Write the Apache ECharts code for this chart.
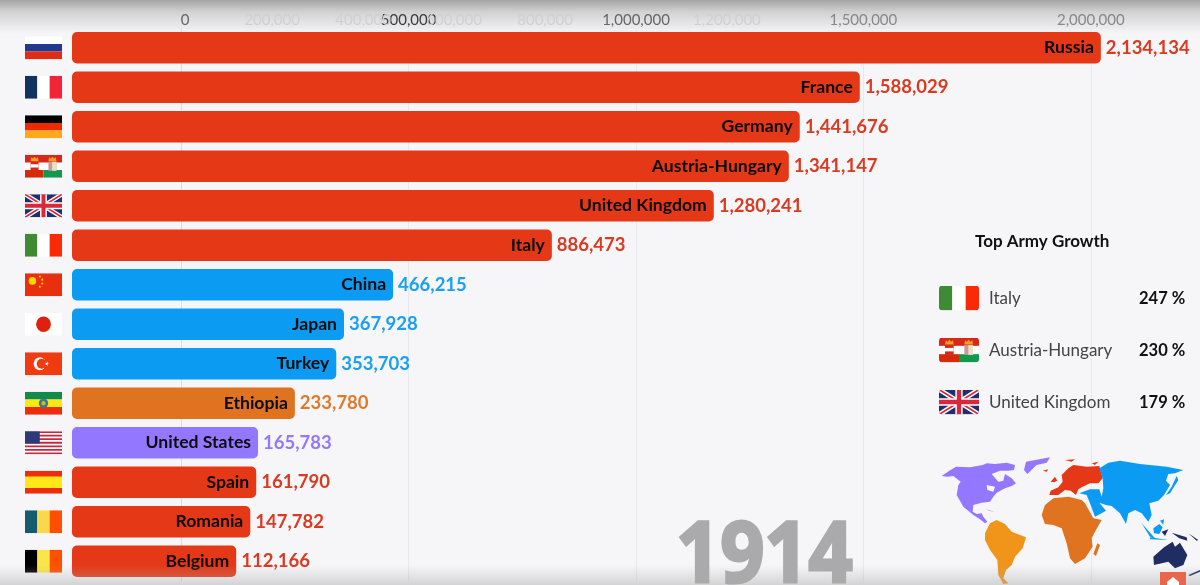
<!DOCTYPE html>
<html><head><meta charset="utf-8">
<style>html,body{margin:0;padding:0;background:#f6f5f8}#c{width:1200px;height:585px}</style>
<script src="https://cdn.jsdelivr.net/npm/echarts@6/dist/echarts.min.js"></script>
</head><body><div id="c"></div>
<script>
// ---------- data ----------
const year = '1914';
const countries = ['Russia','France','Germany','Austria-Hungary','United Kingdom','Italy','China','Japan','Turkey','Ethiopia','United States','Spain','Romania','Belgium'];
const shownValues = [2134134,1588029,1441676,1341147,1280241,886473,466215,367928,353703,233780,165783,161790,147782,112166];
// bar ends read against the axis (the bars lag the counters in this animation frame)
const barEnds = [2022000,1492000,1360000,1336000,1171000,815000,466000,358000,341000,250000,169000,165000,152000,121000];
const regions = ['eu','eu','eu','eu','eu','eu','as','as','as','af','na','eu','eu','eu'];
const growthNames = ['Italy','Austria-Hungary','United Kingdom'];
const growthValues = [247,230,179];
const axisTicks = [0,500000,1000000,1500000,2000000];
const gridTicks = [500000,1000000,1500000,2000000];
const fadedTicks = [200000,400000,600000,800000,1200000];
const axisMin = -240000, axisMax = 2240000;

// ---------- style ----------
const F = 'Lato, "Noto Sans", sans-serif';
const regionColor = {eu:'#e43817',as:'#0b9bf3',af:'#e07320',na:'#9378ff'};
const counterColor = {eu:'#d93a20',as:'#18a0f2',af:'#e07a2a',na:'#9378ff'};
const tickColor = {0:'#666',500000:'#3c3c3c',1000000:'#666',1500000:'#888',2000000:'#888'};
const svg = (s,round) => 'data:image/svg+xml;charset=utf-8,' + encodeURIComponent(
  '<svg xmlns="http://www.w3.org/2000/svg" viewBox="0 0 60 36" width="240" height="144" preserveAspectRatio="none">'+
  (round?'<defs><clipPath id="r"><rect width="60" height="36" rx="5"/></clipPath></defs><g clip-path="url(#r)">'+s+'</g>':s)+'</svg>');
const h3 = (a,b,c)=>`<rect width="60" height="12" fill="${a}"/><rect y="12" width="60" height="12" fill="${b}"/><rect y="24" width="60" height="12" fill="${c}"/>`;
const v3 = (a,b,c)=>`<rect width="20" height="36" fill="${a}"/><rect x="20" width="20" height="36" fill="${b}"/><rect x="40" width="20" height="36" fill="${c}"/>`;
const uk = `<rect width="60" height="36" fill="#1f2f6e"/><path d="M0 0L60 36M60 0L0 36" stroke="#fff" stroke-width="7"/><path d="M0 0L60 36M60 0L0 36" stroke="#d8283c" stroke-width="2.5"/><path d="M30 0V36M0 18H60" stroke="#fff" stroke-width="11"/><path d="M30 0V36M0 18H60" stroke="#d8283c" stroke-width="6.5"/>`;
const ah = `<rect width="60" height="36" fill="#fff"/><rect width="60" height="12" fill="#d8281c"/><rect y="24" width="30" height="12" fill="#d42a08"/><rect x="30" y="24" width="30" height="12" fill="#119a4e"/><rect x="9" y="11" width="13" height="14" fill="#d8281c"/><rect x="9" y="15" width="13" height="5" fill="#fff"/><rect x="38" y="11" width="13" height="14" fill="#c99"/><rect x="44" y="11" width="7" height="14" fill="#e9e0c8"/><path d="M9 10l1-6 3 2 2.500-3 2.500 3 3-2 1 6z" fill="#f0a020"/><path d="M38 10l1-6 3 2 2.500-3 2.500 3 3-2 1 6z" fill="#f0a020"/>`;
let stripes=''; for(let i=0;i<7;i++) stripes+=`<rect y="${i*36/6.5}" width="60" height="2.77" fill="#c8283c"/>`;
const flagSvg = {
  'Russia':h3('#fff','#21398f','#e22b14'),
  'France':v3('#10335f','#fff','#f22438'),
  'Germany':h3('#000','#f02a00','#ffa91a'),
  'Austria-Hungary':ah,
  'United Kingdom':uk,
  'Italy':v3('#3f8a32','#fff','#fb2a06'),
  'China':`<rect width="60" height="36" fill="#e8300f"/><circle cx="12" cy="12" r="6" fill="#ffd800"/><circle cx="24" cy="5" r="1.6" fill="#ffd800"/><circle cx="28" cy="10" r="1.6" fill="#ffd800"/><circle cx="28" cy="16" r="1.6" fill="#ffd800"/><circle cx="24" cy="21" r="1.6" fill="#ffd800"/>`,
  'Japan':`<rect width="60" height="36" fill="#fff"/><circle cx="30" cy="18" r="12" fill="#e0200c"/>`,
  'Turkey':`<rect width="60" height="36" fill="#f03a10"/><circle cx="24" cy="18" r="10" fill="#fff"/><circle cx="27" cy="18" r="8" fill="#f03a10"/><path d="M39 18l-6.5-2.1 4 5.5v-6.8l-4 5.5z" fill="#fff"/>`,
  'Ethiopia':h3('#128a4a','#fbe914','#ee2d0e')+`<circle cx="30" cy="18" r="7.5" fill="#3a7a8a"/><circle cx="30" cy="18" r="3.5" fill="#c9b53a"/>`,
  'United States':`<rect width="60" height="36" fill="#fff"/>${stripes}<rect width="24" height="19" fill="#2c3a7a"/>`,
  'Spain':`<rect width="60" height="36" fill="#ee2d0e"/><rect y="9" width="60" height="18" fill="#ffe81a"/>`,
  'Romania':v3('#155b6e','#fbd84a','#ff4f00'),
  'Belgium':v3('#000','#fbe64a','#ff4f00')
};
const flagUri = {}, flagRound = {};
countries.forEach(c=>{flagUri[c]=svg(flagSvg[c]);flagRound[c]=svg(flagSvg[c],true);});

const flagRich = {};
countries.forEach((c,i)=>{flagRich['f'+i]={width:37,height:23,backgroundColor:{image:flagUri[c]}};});

const tickLabelRich = {};
axisTicks.concat(fadedTicks).forEach(v=>{
  tickLabelRich['t'+v]={color:tickColor[v]||'#d0d0d0',fontFamily:F,fontSize:15,padding:v===0?[0,0,0,8]:0};
});

// ---------- world map (hand-traced outlines, crop units -> picture units) ----------
const A = pts => pts.map(p=>[940+p[0]/3,-(450+p[1]/3)]);
const B = pts => pts.map(p=>[1040+p[0]/3,-(450+p[1]/3)]);
const closed = r => r.concat([r[0]]);
const feature = (name,polys)=>({type:'Feature',properties:{name},geometry:{type:'MultiPolygon',coordinates:polys.map(p=>[closed(p)])}});
const world = {type:'FeatureCollection',features:[
 feature('NA',[A([[5,78],[28,62],[48,50],[90,52],[128,45],[140,40],[165,42],[200,38],[225,45],[222,60],[205,62],[180,62],[155,72],[175,95],[190,92],[195,72],[215,85],[228,100],[215,108],[195,115],[170,128],[160,140],[150,155],[125,158],[100,165],[98,185],[110,192],[125,190],[130,200],[142,215],[135,220],[120,208],[100,195],[70,170],[50,135],[55,105],[62,95],[40,78],[22,80]]),
   A([[258,35],[330,22],[320,38],[290,45],[262,72],[252,60]]),
   A([[135,178],[165,185],[150,183]])]),
 feature('LK',[A([[140,105],[165,110],[160,125],[142,120]])]),
 feature('SA',[A([[135,250],[150,220],[170,210],[195,222],[215,245],[258,262],[248,295],[225,320],[215,345],[198,360],[190,385],[205,400],[190,402],[175,375],[172,330],[150,300],[135,270]])]),
 feature('AF',[B([[5,195],[15,165],[40,145],[85,140],[125,150],[135,160],[160,205],[185,210],[165,245],[155,265],[158,290],[135,325],[105,342],[90,325],[80,280],[65,235],[40,225],[15,222]]),
   B([[172,280],[180,285],[168,318],[160,312]])]),
 feature('EU',[B([[28,135],[32,122],[55,112],[68,95],[65,75],[85,55],[100,45],[140,50],[178,48],[188,85],[175,100],[150,100],[125,112],[115,118],[108,135],[92,122],[75,120],[55,135]]),
   B([[32,95],[45,80],[52,92],[42,97]]),B([[8,62],[25,58],[20,65]]),B([[75,30],[105,28],[95,35]]),B([[155,40],[175,35],[165,45]])]),
 feature('AS',[B([[178,55],[205,38],[240,32],[300,42],[380,50],[430,60],[405,70],[385,72],[378,92],[390,105],[372,135],[355,152],[328,160],[335,195],[325,215],[305,190],[285,180],[265,190],[258,222],[240,190],[215,168],[198,165],[178,158],[198,182],[165,200],[150,160],[140,135],[118,130],[150,118],[178,118],[185,140],[190,115],[188,85]]),
   B([[410,78],[415,90],[390,130],[378,135],[395,110]]),B([[305,220],[345,265],[330,260]]),
   B([[340,235],[358,222],[368,232],[358,252],[342,250]]),B([[330,262],[385,270],[330,268]]),B([[360,212],[372,208],[370,224]])]),
 feature('OC',[B([[340,320],[372,292],[398,275],[405,290],[420,278],[442,315],[430,345],[405,355],[385,335],[342,345]]),
   B([[395,248],[440,262],[442,272],[418,265]]),B([[365,245],[385,238],[375,258]]),B([[445,375],[480,360],[480,365],[450,378]]),B([[445,250],[475,270],[470,272]])])
]};
echarts.registerMap('world-sketch',world);
const mapColor = {NA:'#9378ff',LK:'#f6f5f8',SA:'#f0951a',AF:'#e07320',EU:'#e43817',AS:'#0b9bf3',OC:'#1f2d63'};

// ---------- side panel ----------
const rowY = [298,350,402];
const panel = [{type:'text',left:975,top:233,style:{text:'Top Army Growth',font:'bold 17px '+F,fill:'#111'},z:5}];
growthNames.forEach((n,i)=>{
  panel.push({type:'image',left:939,top:rowY[i]-12.5,style:{image:flagRound[n],width:40,height:25},z:5});
  panel.push({type:'text',left:989,top:rowY[i]-8,style:{text:n,font:'17px '+F,fill:'#444'},z:5});
  panel.push({type:'text',left:1139,top:rowY[i]-8,style:{text:growthValues[i]+' %',font:'bold 16.500px '+F,fill:'#111'},z:5});
});

const chart = echarts.init(document.getElementById('c'),null,{renderer:'canvas'});
chart.setOption({
  animation:false,
  backgroundColor:'#f6f5f8',
  grid:{left:72,right:0,top:28,bottom:4,containLabel:false},
  geo:{map:'world-sketch',roam:false,silent:true,aspectScale:1,
    boundingCoords:[[900,-440],[1200,-585]],left:900,top:440,width:300,height:145,
    label:{show:false},
    itemStyle:{borderWidth:0,areaColor:'#999'},
    regions:Object.keys(mapColor).map(k=>({name:k,itemStyle:{areaColor:mapColor[k],borderWidth:0}})),z:1},
  xAxis:[
   {type:'value',position:'top',min:axisMin,max:axisMax,
    axisLine:{show:false},
    axisTick:{show:false,customValues:gridTicks},
    splitLine:{show:true,lineStyle:{color:'#e9e8ec',width:1}},
    axisLabel:{show:true,margin:0,customValues:axisTicks.concat(fadedTicks),hideOverlap:false,
      formatter:v=>`{t${v}|${v.toLocaleString('en-US')}}`,rich:tickLabelRich}},
   // same scale as the visible axis, measured from the bars' left edge
   {type:'value',show:false,min:0,max:axisMax-axisMin,splitLine:{show:false}}
  ],
  yAxis:{type:'category',inverse:true,data:countries,
    axisLine:{show:true,lineStyle:{color:'#dcdbdf'}},axisTick:{show:false},
    axisLabel:{margin:10,interval:0,formatter:(v)=>`{f${countries.indexOf(v)}|}`,rich:flagRich}},
  series:[
    {type:'bar',name:'bars',xAxisIndex:1,barWidth:31.5,barGap:'-100%',
     data:barEnds.map((v,i)=>({value:v-axisMin,itemStyle:{color:regionColor[regions[i]],borderRadius:5}})),
     label:{show:true,position:'insideRight',distance:7,color:'#0c0c0c',fontFamily:F,fontWeight:'bold',fontSize:17.6,
       formatter:p=>countries[p.dataIndex]},z:3},
    {type:'bar',name:'counters',xAxisIndex:1,barWidth:31.5,barGap:'-100%',silent:true,
     data:barEnds.map((v,i)=>({value:v-axisMin,itemStyle:{color:'transparent'},
       label:{color:counterColor[regions[i]]}})),
     label:{show:true,position:'right',distance:5,fontFamily:F,fontWeight:'bold',fontSize:18.5,
       formatter:p=>shownValues[p.dataIndex].toLocaleString('en-US')},z:3}
  ],
  graphic:[
    {type:'rect',left:0,top:0,shape:{width:1200,height:34},z:-1,silent:true,
     style:{fill:new echarts.graphic.LinearGradient(0,0,0,1,[{offset:0,color:'#a4a4a4'},{offset:.35,color:'#d2d2d3'},{offset:1,color:'#f6f5f8'}])}},
    {type:'rect',left:0,top:565,shape:{width:1200,height:20},z:6,silent:true,
     style:{fill:new echarts.graphic.LinearGradient(0,0,0,1,[{offset:0,color:'rgba(170,170,170,0)'},{offset:1,color:'rgba(170,170,170,.45)'}])}},
    {type:'text',x:676,y:516,scaleX:0.92,z:4,silent:true,style:{text:year,font:'bold 84px "Open Sans", sans-serif',fill:'#aaaaac',stroke:'#aaaaac',lineWidth:3,lineJoin:'round'}},
    {type:'rect',left:1160,top:572,shape:{width:26,height:13},z:7,silent:true,style:{fill:'#e8674a'}},
    {type:'polygon',left:1167,top:577,shape:{points:[[6,0],[12,5],[12,8],[0,8],[0,5]]},z:8,silent:true,style:{fill:'#fff'}},
    ...panel
  ]
});
</script></body></html>
